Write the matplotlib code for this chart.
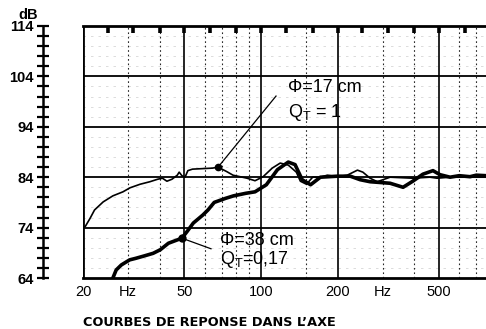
import numpy as np
import matplotlib
matplotlib.use("Agg")
import matplotlib.pyplot as plt

plt.rcParams['font.family'] = ['Liberation Sans', 'DejaVu Sans']
plt.rcParams['mathtext.fontset'] = 'custom'
plt.rcParams['mathtext.rm'] = 'Liberation Sans'
plt.rcParams['mathtext.it'] = 'Liberation Sans'

# --- Response curves (frequency in Hz, level in dB) ---
freq_17 = [20, 20.4, 21.3, 22.2, 24.0, 26.2, 28.7, 30.6, 33.5, 36.6, 39.3, 41.0,
           42.7, 44.7, 46.9, 47.7, 48.9, 50.3, 51.6, 53.8, 64.5, 67.8, 73.4, 77.6,
           88.1, 94.7, 101.9, 110.6, 118.9, 127.9, 137.6, 142.7, 150.8, 159.4,
           171.4, 182, 199.6, 218, 239, 251, 268, 286, 321, 394, 460, 491, 552, 764]
level_17 = [74.0, 74.2, 75.8, 77.5, 79.1, 80.3, 81.1, 81.9, 82.6, 83.1, 83.6, 83.8,
            83.2, 83.6, 84.4, 85.0, 84.3, 84.0, 85.3, 85.6, 85.8, 86.0, 85.1, 84.4,
            83.8, 83.3, 84.1, 85.8, 86.8, 86.4, 85.0, 83.2, 82.6, 84.0,
            84.0, 84.4, 84.1, 84.4, 85.4, 85.0, 83.8, 83.1, 84.0, 83.8, 84.0, 83.8, 84.0, 84.0]

freq_38 = [26.2, 27.0, 28.3, 30.5, 32.2, 34.9, 37.7, 40.2, 43.3, 48.9, 51.2, 54.2,
           59.1, 61.9, 65.5, 72.5, 78.0, 87.0, 94.7, 104.9, 116, 127.9, 136, 145,
           156.5, 171, 199, 224, 245, 268, 321, 361, 394, 432, 473, 504, 552, 600,
           661, 700, 764]
level_38 = [64.0, 65.6, 66.6, 67.6, 67.9, 68.4, 68.9, 69.6, 70.9, 71.9, 73.2, 74.9,
            76.5, 77.5, 79.0, 79.8, 80.3, 80.8, 81.1, 82.5, 85.5, 87.0, 86.5, 83.5,
            82.5, 84.0, 84.2, 84.2, 83.5, 83.1, 82.8, 82.0, 83.2, 84.6, 85.3, 84.5,
            84.0, 84.3, 84.1, 84.4, 84.3]

# points where the labels' leader lines meet the curves
dot_17 = (67.8, 86.0)
lead_17 = (114.5, 100.1)
dot_38 = (48.9, 71.9)
lead_38 = (63.6, 69.8)

ytick_major = [64, 74, 84, 94, 104, 114]
xtick_pos = [20, 30, 50, 100, 200, 300, 500]
xtick_lab = ['20', 'Hz', '50', '100', '200', 'Hz', '500']
solid_vlines = [50, 100, 200, 500]
dotted_vlines = [30, 40, 60, 70, 80, 90, 150, 300, 400, 600, 700]
third_octave = [25, 31.5, 40, 50, 63, 80, 100, 125, 160, 200, 250, 315, 400, 500, 630]

fig = plt.figure(figsize=(4.86, 3.29), dpi=100)
ax = fig.add_axes([83 / 486, 51 / 329, 1 - 83 / 486, 252 / 329])
ax.set_xscale('log')
ax.set_xlim(20, 764)
ax.set_ylim(64, 114)

# grid
for y in ytick_major[1:-1]:
    ax.axhline(y, color='black', lw=1.3, zorder=1)
for y in range(66, 114, 2):
    if y not in ytick_major:
        ax.axhline(y, color='0.55', lw=0.6, ls=(0, (3, 6)), alpha=0.35, zorder=0)
for f in solid_vlines:
    ax.axvline(f, color='black', lw=1.2, zorder=1)
for f in dotted_vlines:
    ax.axvline(f, color='0.15', lw=0.8, ls=(0, (1.5, 2.5)), zorder=1)
ax.axvline(20, color='black', lw=2.0, zorder=2)

# 1/3-octave marks hanging from the top edge
ax.vlines(third_octave, 112.7, 114, color='black', lw=2.6, zorder=2)

# curves
ax.plot(freq_17, level_17, color='black', lw=1.2, zorder=3)
ax.plot(freq_38, level_38, color='black', lw=2.6, zorder=3, solid_capstyle='round')

# leader lines and labels
ax.plot([dot_17[0], lead_17[0]], [dot_17[1], lead_17[1]], color='black', lw=0.9, zorder=3)
ax.plot(*dot_17, 'o', color='black', ms=4.5, zorder=4)
ax.plot([dot_38[0], lead_38[0]], [dot_38[1], lead_38[1]], color='black', lw=0.9, zorder=3)
ax.plot(*dot_38, 'o', color='black', ms=5, zorder=4)

ax.text(127.6, 101.7, 'Φ=17 cm', fontsize=13, va='center', ha='left')
ax.text(127.6, 96.9, r'Q$_\mathrm{T}$ = 1', fontsize=13, va='center', ha='left')
ax.text(69.0, 71.4, 'Φ=38 cm', fontsize=13, va='center', ha='left')
ax.text(69.0, 67.7, r'Q$_\mathrm{T}$=0,17', fontsize=13, va='center', ha='left')

# frame and axes
ax.spines['right'].set_visible(False)
ax.spines['top'].set_linewidth(2.0)
ax.spines['bottom'].set_linewidth(2.0)
ax.spines['left'].set_position(('outward', 28.8))
ax.spines['left'].set_linewidth(1.8)

ax.set_yticks(ytick_major)
ax.set_yticks(range(64, 115, 2), minor=True)
ax.tick_params(axis='y', which='both', direction='inout', length=8, width=1.6, pad=2.5)
ax.tick_params(axis='y', which='major', labelsize=10.5)
for lab in ax.get_yticklabels():
    lab.set_fontweight('bold')

ax.set_xticks(xtick_pos)
ax.set_xticklabels(xtick_lab, fontsize=10.5)
ax.xaxis.set_minor_locator(matplotlib.ticker.NullLocator())
ax.tick_params(axis='x', which='both', length=0, pad=5)

fig.text(28 / 486, 1 - 15 / 329, 'dB', fontsize=10.5, fontweight='bold', ha='center', va='center')
fig.text(83 / 486, 1 - 322 / 329, 'COURBES DE REPONSE DANS L’AXE', fontsize=9.3,
         fontweight='bold', ha='left', va='center', family=['DejaVu Sans'])

fig.savefig('out.png', dpi=100)
